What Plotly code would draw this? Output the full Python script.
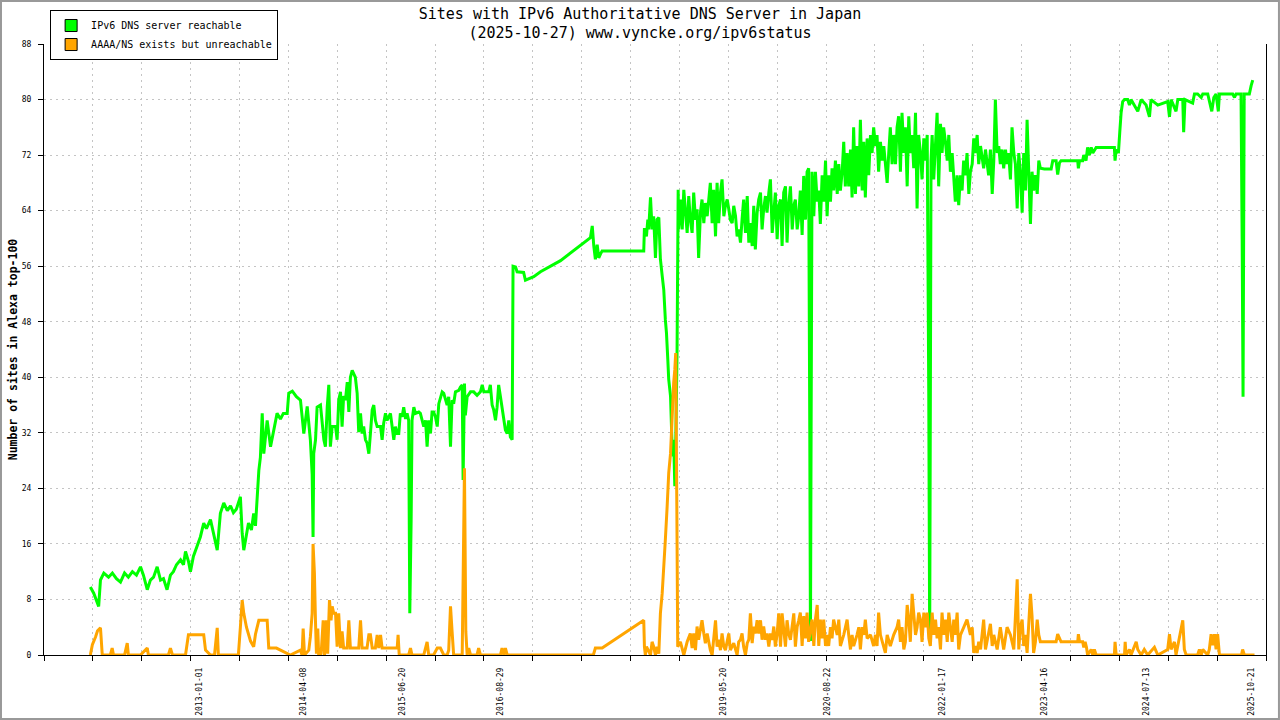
import pandas as pd
import plotly.graph_objects as go

BASE_DATE = "2013-01-01"  # day offsets below are counted from this date

# IPv6 DNS server reachable: (day offset, number of sites)
green_points = [
    (-485, 9.8), (-470, 8.9), (-448, 7.0), (-440, 10.8), (-425, 11.8), (-404, 11.2), (-387, 11.8),
    (-369, 11.0), (-351, 10.5), (-333, 11.8), (-316, 11.2), (-298, 12.0), (-280, 11.5), (-262, 12.7),
    (-249, 11.5), (-232, 9.4), (-218, 10.8), (-204, 11.2), (-188, 12.7), (-173, 10.8), (-160, 11.0),
    (-144, 9.4), (-129, 11.5), (-116, 12.0), (-102, 13.0), (-84, 13.7), (-71, 13.0), (-62, 14.9),
    (-49, 13.5), (-40, 12.0), (-27, 14.2), (-10, 15.8), (4, 17.0), (19, 19.0), (31, 18.2), (49, 19.5),
    (64, 17.3), (79, 15.1), (93, 20.4), (108, 21.9), (124, 20.8), (138, 21.5), (151, 20.5), (164, 21.0),
    (182, 22.8), (190, 17.5), (197, 15.1), (209, 17.5), (218, 19.0), (231, 18.0), (241, 20.4),
    (249, 18.6), (256, 22.8), (264, 26.6), (271, 28.5), (279, 34.8), (286, 29.0), (301, 33.8),
    (316, 30.0), (329, 32.4), (345, 34.8), (360, 34.0), (373, 34.8), (390, 34.8), (397, 37.7),
    (413, 38.0), (431, 37.2), (449, 36.7), (464, 31.9), (479, 35.8), (493, 31.0), (501, 26.0),
    (505, 17.0), (508, 29.0), (516, 31.0), (523, 35.7), (538, 36.0), (553, 31.0), (560, 30.0),
    (568, 35.7), (575, 38.9), (582, 30.0), (590, 32.9), (597, 32.9), (605, 32.9), (612, 31.0),
    (619, 36.7), (627, 37.9), (634, 32.9), (641, 37.3), (649, 36.7), (657, 39.3), (664, 35.0),
    (671, 40.0), (679, 41.0), (686, 40.5), (693, 40.0), (701, 37.7), (708, 32.1), (716, 34.8),
    (723, 31.9), (730, 32.9), (738, 31.0), (745, 30.5), (753, 29.0), (760, 31.9), (768, 35.3),
    (775, 36.0), (782, 33.8), (790, 32.9), (805, 32.9), (812, 31.0), (819, 33.4), (827, 34.8),
    (834, 33.8), (849, 34.8), (857, 32.9), (864, 31.0), (871, 32.9), (879, 31.9), (886, 31.9),
    (893, 34.8), (901, 34.3), (908, 35.7), (916, 34.0), (923, 34.8), (930, 33.8), (935, 6.0),
    (941, 19.4), (945, 33.8), (953, 35.7), (960, 34.8), (975, 35.0), (982, 34.8), (990, 33.8),
    (997, 32.9), (1005, 33.8), (1012, 30.0), (1019, 33.8), (1027, 31.9), (1034, 35.0), (1041, 35.0),
    (1049, 34.3), (1057, 32.9), (1064, 36.2), (1071, 37.2), (1079, 37.9), (1086, 37.7), (1101, 36.0),
    (1108, 37.2), (1116, 30.0), (1123, 36.7), (1130, 36.2), (1138, 37.9), (1153, 38.1), (1160, 38.6),
    (1168, 38.9), (1172, 25.2), (1178, 39.1), (1182, 34.5), (1190, 37.2), (1205, 37.9), (1219, 37.9),
    (1234, 37.4), (1249, 37.9), (1257, 38.9), (1264, 37.9), (1271, 37.9), (1286, 37.9), (1293, 38.9),
    (1301, 36.0), (1308, 35.3), (1316, 33.8), (1323, 35.7), (1330, 38.9), (1338, 37.2), (1345, 35.7),
    (1353, 33.8), (1360, 32.4), (1368, 31.9), (1375, 33.8), (1382, 31.4), (1390, 31.0), (1394, 56.0),
    (1405, 55.9), (1412, 55.2), (1427, 55.1), (1441, 55.1), (1449, 54.0), (1457, 54.1), (1486, 54.5),
    (1516, 55.2), (1545, 55.7), (1575, 56.3), (1605, 56.8), (1738, 60.1), (1746, 61.8), (1753, 58.9),
    (1760, 57.0), (1768, 59.1), (1775, 57.2), (1782, 57.7), (1790, 58.2), (1975, 58.2), (1978, 61.5),
    (1987, 60.3), (1993, 62.7), (1997, 61.3), (2005, 65.9), (2012, 61.3), (2019, 63.2), (2027, 57.2),
    (2034, 62.7), (2042, 63.0), (2049, 57.0), (2057, 54.6), (2064, 52.6), (2071, 48.3), (2076, 46.4),
    (2082, 42.5), (2086, 39.7), (2094, 37.3), (2097, 33.4), (2101, 30.0), (2106, 28.6), (2108, 31.0),
    (2113, 24.3), (2117, 30.0), (2123, 43.5), (2128, 67.0), (2130, 61.3), (2138, 65.6), (2146, 61.3),
    (2153, 67.0), (2160, 63.7), (2168, 60.8), (2175, 66.1), (2182, 62.7), (2190, 60.8), (2197, 66.6),
    (2205, 62.7), (2212, 64.2), (2219, 57.2), (2227, 63.7), (2234, 65.6), (2242, 62.2), (2249, 65.1),
    (2257, 63.2), (2264, 65.6), (2271, 68.0), (2279, 62.2), (2286, 67.0), (2294, 60.3), (2301, 68.0),
    (2308, 62.2), (2316, 66.6), (2323, 68.5), (2331, 63.2), (2338, 64.7), (2346, 65.6), (2353, 64.2),
    (2360, 62.7), (2368, 62.2), (2375, 64.7), (2383, 63.2), (2390, 60.3), (2397, 61.3), (2405, 59.4),
    (2412, 62.7), (2419, 65.6), (2427, 60.8), (2435, 66.1), (2442, 59.4), (2449, 62.2), (2457, 58.9),
    (2464, 64.7), (2471, 58.4), (2479, 63.7), (2486, 65.6), (2494, 66.6), (2501, 61.3), (2508, 64.2),
    (2516, 66.1), (2523, 63.7), (2531, 66.6), (2538, 68.5), (2546, 60.8), (2553, 63.7), (2560, 66.6),
    (2568, 59.9), (2575, 64.7), (2583, 65.6), (2590, 58.9), (2597, 66.6), (2605, 67.5), (2612, 59.4),
    (2619, 64.7), (2627, 67.5), (2635, 61.3), (2642, 64.7), (2649, 65.6), (2657, 61.3), (2664, 63.2),
    (2671, 66.9), (2679, 60.5), (2686, 69.0), (2694, 62.7), (2701, 69.6), (2708, 70.1), (2713, 32.5),
    (2716, 2.0), (2719, 32.5), (2723, 69.6), (2731, 63.2), (2738, 69.6), (2746, 65.3), (2753, 66.9),
    (2760, 62.1), (2768, 69.1), (2775, 65.3), (2783, 71.2), (2790, 63.2), (2797, 69.1), (2805, 65.3),
    (2812, 70.1), (2819, 66.9), (2827, 71.2), (2835, 66.4), (2842, 70.7), (2849, 66.9), (2857, 69.6),
    (2864, 73.9), (2871, 67.5), (2879, 72.3), (2886, 67.5), (2894, 72.8), (2901, 65.9), (2908, 76.0),
    (2916, 66.4), (2923, 73.3), (2931, 67.5), (2938, 77.1), (2946, 66.9), (2953, 73.9), (2960, 65.9),
    (2968, 74.4), (2975, 69.1), (2983, 74.9), (2990, 72.3), (2997, 76.0), (3005, 73.3), (3012, 74.9),
    (3019, 69.6), (3027, 73.9), (3035, 71.2), (3042, 73.3), (3049, 70.7), (3057, 68.0), (3064, 72.3),
    (3071, 76.0), (3079, 70.7), (3086, 74.9), (3094, 70.7), (3101, 76.0), (3108, 77.6), (3116, 69.6),
    (3123, 78.1), (3131, 72.3), (3138, 76.0), (3146, 67.5), (3153, 77.6), (3160, 72.3), (3168, 74.9),
    (3175, 70.1), (3183, 78.1), (3190, 64.3), (3197, 74.9), (3205, 72.3), (3212, 68.5), (3220, 74.4),
    (3227, 71.2), (3235, 74.9), (3242, 37.0), (3246, 1.9), (3252, 71.2), (3257, 74.9), (3264, 68.5),
    (3272, 73.3), (3279, 78.1), (3286, 67.5), (3294, 76.5), (3301, 72.3), (3308, 76.0), (3316, 73.9),
    (3324, 71.2), (3331, 74.9), (3338, 69.6), (3346, 72.3), (3353, 68.0), (3360, 65.3), (3368, 69.1),
    (3375, 64.8), (3383, 69.1), (3390, 66.9), (3397, 71.2), (3405, 69.1), (3412, 72.3), (3420, 66.4),
    (3427, 69.6), (3435, 70.7), (3442, 74.4), (3449, 72.3), (3457, 74.9), (3464, 70.7), (3472, 73.3),
    (3479, 71.7), (3486, 70.1), (3494, 72.8), (3501, 70.7), (3508, 69.1), (3516, 72.8), (3524, 66.4),
    (3531, 71.2), (3538, 80.0), (3546, 72.3), (3553, 73.3), (3560, 70.7), (3568, 72.8), (3575, 70.1),
    (3583, 72.8), (3590, 70.7), (3597, 72.3), (3605, 68.5), (3612, 76.0), (3620, 72.3), (3627, 70.7),
    (3635, 64.3), (3642, 72.3), (3649, 69.6), (3657, 63.7), (3664, 72.3), (3672, 66.9), (3679, 77.1),
    (3686, 71.2), (3694, 62.1), (3701, 69.6), (3708, 66.9), (3716, 69.1), (3724, 66.4), (3731, 71.2),
    (3738, 70.1), (3756, 70.0), (3786, 70.0), (3793, 71.2), (3808, 71.2), (3815, 69.2), (3823, 70.9),
    (3830, 71.2), (3904, 71.2), (3907, 70.1), (3912, 71.2), (3926, 71.2), (3931, 72.0), (3941, 71.2),
    (3948, 73.1), (3956, 72.0), (3964, 73.1), (3971, 72.3), (3986, 73.1), (4067, 73.1), (4070, 71.2),
    (4075, 72.8), (4085, 72.3), (4091, 75.3), (4097, 78.1), (4104, 79.7), (4112, 80.0), (4126, 80.0),
    (4134, 79.2), (4141, 80.0), (4171, 78.3), (4186, 80.0), (4208, 79.2), (4223, 77.5), (4230, 80.0),
    (4260, 79.2), (4304, 79.7), (4312, 77.5), (4319, 80.0), (4341, 78.3), (4349, 80.0), (4371, 80.0),
    (4375, 75.3), (4381, 80.0), (4415, 79.5), (4423, 80.8), (4437, 80.8), (4453, 80.3), (4460, 80.8),
    (4482, 80.8), (4489, 79.7), (4500, 78.3), (4509, 80.3), (4519, 80.8), (4529, 78.3), (4534, 80.8),
    (4593, 80.8), (4601, 80.3), (4608, 80.8), (4630, 80.8), (4635, 59.9), (4639, 37.2), (4644, 80.8),
    (4667, 80.8), (4675, 82.0), (4682, 82.8),
]

# AAAA/NS exists but unreachable: (day offset, number of sites)
orange_points = [
    (-485, 0), (-476, 1.5), (-462, 2.6), (-453, 3.5), (-440, 3.9), (-432, 0), (-418, 0), (-396, 0),
    (-388, 1.0), (-382, 0), (-333, 0), (-321, 1.7), (-316, 0), (-262, 0), (-232, 1.0), (-227, 0),
    (-173, 0), (-138, 0), (-129, 1.0), (-120, 0), (-62, 0), (-49, 2.9), (-13, 2.9), (19, 2.9),
    (27, 0.7), (49, 0), (67, 0), (79, 3.9), (84, 0), (173, 0), (182, 4.0), (190, 7.9), (197, 6.0),
    (209, 4.0), (227, 2.0), (241, 1.2), (249, 3.0), (264, 5.0), (280, 5.0), (301, 5.0), (308, 1.0),
    (342, 1.0), (404, 0), (449, 0.7), (456, 0), (461, 3.8), (467, 0), (486, 0.7), (493, 2.6),
    (501, 6.0), (505, 16.0), (511, 11.8), (516, 4.6), (520, 0.2), (526, 3.8), (530, 0), (541, 0.2),
    (550, 5.0), (556, 0), (564, 5.0), (570, 0.2), (578, 7.9), (585, 5.0), (590, 7.0), (597, 6.0),
    (605, 6.0), (612, 1.2), (619, 6.0), (627, 1.0), (634, 3.4), (641, 1.0), (657, 1.0), (664, 5.0),
    (671, 1.0), (708, 1.0), (716, 5.0), (723, 1.0), (745, 1.0), (753, 2.9), (760, 2.9), (768, 1.0),
    (782, 1.0), (790, 2.9), (797, 1.0), (805, 2.9), (812, 1.0), (879, 1.0), (883, 2.9), (888, 0),
    (930, 0), (938, 1.0), (945, 0), (997, 0), (1012, 1.9), (1019, 0), (1041, 0), (1057, 1.0),
    (1071, 1.0), (1086, 0), (1101, 0), (1108, 0.7), (1116, 7.0), (1123, 3.4), (1130, 0), (1168, 0),
    (1172, 13.4), (1178, 26.9), (1184, 3.4), (1190, 0), (1197, 1.0), (1205, 0), (1234, 0), (1241, 1.0),
    (1249, 0), (1338, 0), (1345, 1.0), (1353, 0), (1360, 1.0), (1368, 0), (1751, 0), (1760, 1.0),
    (1790, 1.0), (1975, 5.0), (1978, 1.2), (1982, 0), (1987, 1.2), (2005, 0), (2012, 1.9), (2019, 1.2),
    (2027, 0), (2034, 1.2), (2042, 0.2), (2049, 6.0), (2057, 8.9), (2064, 13.7), (2071, 16.6),
    (2079, 21.4), (2086, 26.2), (2094, 29.0), (2098, 32.0), (2102, 35.8), (2108, 39.2), (2113, 41.1),
    (2117, 43.5), (2122, 21.6), (2126, 1.2), (2138, 1.9), (2153, 0), (2168, 1.9), (2182, 3.1),
    (2190, 1.0), (2197, 3.1), (2205, 0.7), (2212, 4.1), (2219, 2.2), (2227, 3.9), (2234, 5.0),
    (2242, 3.1), (2249, 1.7), (2257, 3.1), (2264, 1.7), (2271, 0.7), (2279, 0), (2286, 2.2), (2294, 5.0),
    (2301, 1.2), (2308, 2.2), (2316, 0.7), (2323, 3.1), (2331, 1.2), (2338, 0.7), (2353, 3.1),
    (2360, 0.7), (2375, 1.7), (2383, 0.7), (2390, 0), (2397, 1.9), (2405, 2.2), (2412, 3.1), (2419, 1.2),
    (2427, 0), (2435, 1.7), (2442, 2.2), (2449, 6.0), (2457, 1.7), (2464, 4.1), (2471, 3.1), (2479, 5.0),
    (2486, 3.1), (2494, 5.0), (2501, 2.2), (2508, 4.1), (2516, 2.2), (2523, 3.1), (2531, 1.2),
    (2538, 3.1), (2546, 2.2), (2553, 4.1), (2560, 1.2), (2568, 3.1), (2575, 6.0), (2583, 1.2),
    (2590, 6.0), (2597, 4.1), (2605, 1.2), (2612, 5.0), (2619, 3.1), (2627, 2.2), (2635, 4.6),
    (2642, 6.0), (2649, 1.2), (2657, 4.1), (2664, 5.0), (2671, 6.1), (2679, 1.3), (2686, 5.6),
    (2694, 2.4), (2701, 6.1), (2708, 1.9), (2716, 4.0), (2723, 5.1), (2731, 1.3), (2738, 5.1),
    (2746, 7.2), (2753, 1.3), (2760, 5.1), (2768, 2.4), (2775, 5.1), (2783, 1.3), (2790, 2.9),
    (2797, 1.3), (2805, 4.0), (2812, 2.4), (2819, 5.1), (2835, 2.9), (2842, 5.1), (2849, 1.3),
    (2864, 2.9), (2879, 5.1), (2886, 2.9), (2894, 0.8), (2901, 2.9), (2908, 1.3), (2923, 2.9),
    (2931, 4.0), (2938, 0.8), (2946, 4.0), (2953, 2.9), (2960, 5.1), (2968, 2.4), (2983, 2.9),
    (2997, 1.3), (3005, 2.9), (3012, 1.3), (3019, 6.1), (3027, 2.9), (3042, 1.3), (3049, 0.3),
    (3057, 2.9), (3071, 1.3), (3086, 2.9), (3101, 4.0), (3108, 5.1), (3116, 1.9), (3123, 4.0),
    (3131, 0.8), (3138, 1.9), (3146, 7.2), (3153, 5.1), (3160, 1.9), (3168, 8.8), (3175, 6.1),
    (3183, 2.9), (3190, 4.0), (3197, 6.1), (3205, 5.1), (3212, 1.9), (3220, 6.1), (3227, 4.0),
    (3235, 6.1), (3242, 2.4), (3249, 1.3), (3257, 6.1), (3264, 2.9), (3272, 5.1), (3279, 2.4),
    (3286, 4.0), (3294, 0.8), (3301, 6.1), (3308, 2.9), (3316, 5.1), (3324, 1.9), (3331, 6.1),
    (3338, 4.0), (3346, 1.9), (3353, 5.1), (3360, 2.9), (3368, 6.1), (3375, 0.8), (3383, 2.9),
    (3397, 4.0), (3412, 5.1), (3427, 2.9), (3435, 4.0), (3442, 0.3), (3449, 1.3), (3457, 0.3),
    (3464, 1.9), (3472, 0.8), (3486, 5.1), (3494, 0.8), (3501, 1.9), (3508, 2.9), (3516, 4.5),
    (3524, 1.3), (3531, 2.9), (3538, 1.9), (3546, 0.8), (3560, 4.0), (3575, 0.8), (3590, 4.0),
    (3605, 2.9), (3620, 0.8), (3635, 10.9), (3642, 0.8), (3649, 4.0), (3657, 5.1), (3664, 1.3),
    (3672, 2.9), (3679, 0.3), (3694, 8.8), (3701, 5.6), (3708, 0.3), (3716, 1.9), (3724, 5.1),
    (3731, 2.9), (3738, 1.9), (3756, 1.9), (3808, 1.9), (3815, 3.0), (3830, 1.9), (3904, 1.9),
    (3907, 3.0), (3912, 1.9), (3926, 1.9), (3931, 1.1), (3937, 1.9), (3943, 1.1), (3948, 0),
    (3964, 0.8), (3971, 0), (3978, 0.8), (3986, 0), (4067, 0), (4070, 1.9), (4075, 0), (4112, 0),
    (4115, 1.9), (4119, 0), (4134, 0.8), (4141, 0), (4164, 1.9), (4171, 0.8), (4186, 0), (4200, 0.8),
    (4215, 0), (4245, 1.1), (4260, 0), (4304, 0.8), (4312, 3.0), (4319, 0.8), (4334, 1.9), (4341, 0),
    (4371, 5.0), (4378, 0.8), (4386, 0), (4437, 0), (4445, 0.8), (4453, 0), (4460, 0.8), (4482, 0),
    (4489, 0.8), (4497, 3.0), (4504, 1.4), (4512, 3.0), (4519, 0.8), (4526, 3.0), (4534, 0),
    (4632, 0), (4637, 0.8), (4645, 0), (4690, 0),
]

tick_labels = ["2013-01-01", "2014-04-08", "2015-06-20", "2016-08-29", "2019-05-20",
               "2020-08-22", "2022-01-17", "2023-04-16", "2024-07-13", "2025-10-21"]
y_ticks = list(range(0, 89, 8))

series_names = ["IPv6 DNS server reachable", "AAAA/NS exists but unreachable"]
series_colors = ["#00ff00", "#ffa500"]

# ---------------------------------------------------------------------------
base = pd.Timestamp(BASE_DATE)
green_day, green_val = zip(*green_points)
orange_day, orange_val = zip(*orange_points)
green_x = base + pd.to_timedelta(list(green_day), unit="D")
orange_x = base + pd.to_timedelta(list(orange_day), unit="D")

x_start = base + pd.Timedelta(days=-691)
x_end = base + pd.Timedelta(days=4741)
grid_step_ms = (x_end - x_start).total_seconds() * 1000 / 25

FONT = "DejaVu Sans Mono"
GRID = "#c4c4c4"
fig = go.Figure()

for xs, ys, name, col in [(green_x, green_val, series_names[0], series_colors[0]),
                          (orange_x, orange_val, series_names[1], series_colors[1])]:
    fig.add_trace(go.Scatter(x=xs, y=list(ys), mode="lines", name=name, showlegend=False,
                             line=dict(color=col, width=3), hoverinfo="x+y"))

# legend swatches (rectangles)
for name, col in zip(series_names, series_colors):
    fig.add_trace(go.Bar(x=[None], y=[None], name=name, xaxis="x2",
                         marker=dict(color=col, line=dict(color="black", width=1))))

fig.update_layout(
    width=1280, height=720,
    margin=dict(l=44, r=14, t=44, b=65, autoexpand=False),
    paper_bgcolor="white", plot_bgcolor="white",
    font=dict(family=FONT, color="black"),
    title=dict(text="Sites with IPv6 Authoritative DNS Server in Japan<br>(2025-10-27) www.vyncke.org/ipv6status",
               x=0.5, xref="container", xanchor="center", y=0.9737, yref="container", yanchor="top",
               font=dict(family=FONT, size=15, color="black")),
    showlegend=True,
    legend=dict(x=0.005, y=1.0556, xanchor="left", yanchor="top", bgcolor="white",
                bordercolor="black", borderwidth=1, font=dict(family=FONT, size=10),
                itemwidth=30, tracegroupgap=0),
    xaxis=dict(type="date", range=[x_start, x_end], tickmode="linear", tick0=x_start,
               dtick=grid_step_ms, showticklabels=False, ticks="outside", ticklen=5,
               tickcolor="black", showgrid=True, gridcolor=GRID, griddash="2px,4px",
               gridwidth=1, showline=True, linecolor="black", linewidth=1, zeroline=False,
               automargin=False),
    xaxis2=dict(type="date", range=[x_start, x_end], overlaying="x", anchor="y", side="bottom",
                tickmode="array", tickvals=[pd.Timestamp(t) for t in tick_labels], ticktext=tick_labels,
                tickangle=-90, ticks="", showgrid=False, showline=False, zeroline=False,
                ticklabelstandoff=10, automargin=False,
                tickfont=dict(family=FONT, size=8, color="black")),
    yaxis=dict(range=[0, 88], tickmode="array", tickvals=y_ticks, ticks="outside", ticklen=5,
               tickcolor="black", showgrid=True, gridcolor=GRID, griddash="2px,4px", gridwidth=1,
               showline=True, linecolor="black", linewidth=1, mirror=True, zeroline=False,
               automargin=False, ticklabelstandoff=5,
               tickfont=dict(family=FONT, size=8, color="black"),
               title=dict(text="Number of sites in Alexa top-100", standoff=1,
                          font=dict(family=FONT, size=11.5, color="black", weight="bold"))),
    shapes=[dict(type="rect", xref="paper", yref="paper", x0=-0.0352, x1=1.0106,
                 y0=-0.1047, y1=1.0704, line=dict(color="#999999", width=2), layer="above")],
)

fig.write_html("out.html", config={"displayModeBar": False},
               post_script="document.body.style.margin='0px';document.body.style.overflow='hidden';")
